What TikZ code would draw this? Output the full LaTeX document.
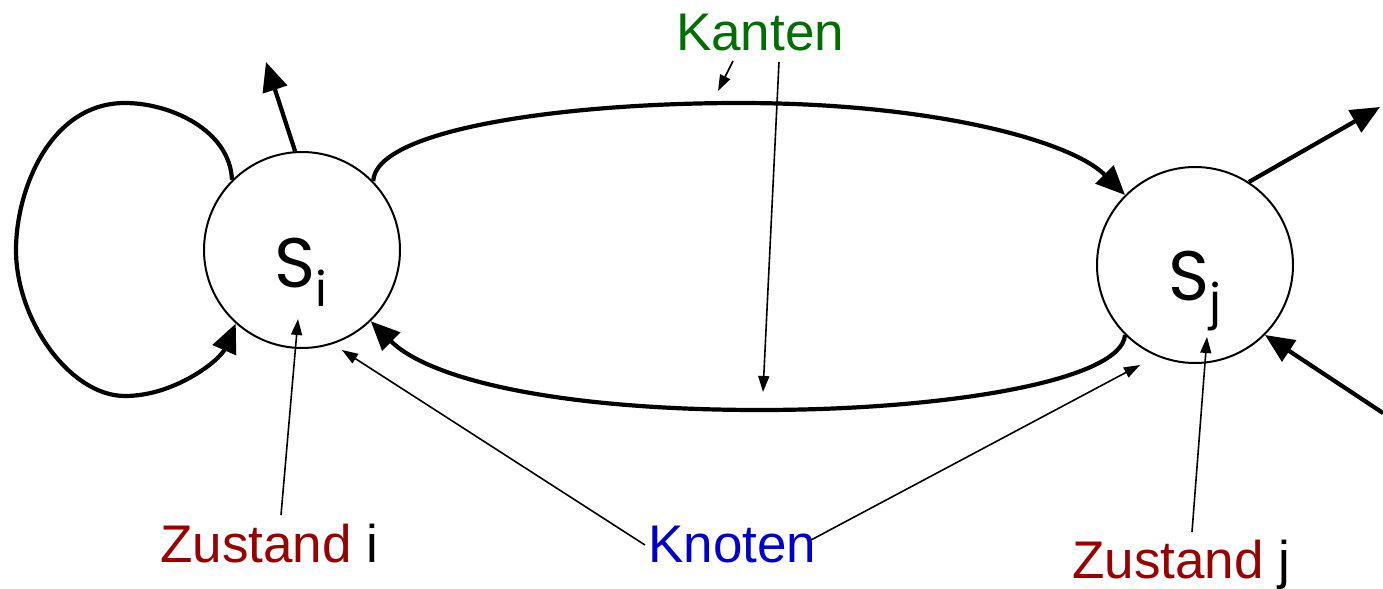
\documentclass[tikz,border=0pt]{standalone}
\usepackage{fontspec}
\setmainfont{Liberation Sans}
\newfontfamily\geofont{Poppins}
\usetikzlibrary{arrows.meta}
\definecolor{zred}{HTML}{990000}
\definecolor{kblue}{HTML}{0000CC}
\definecolor{kgreen}{HTML}{006E00}
\begin{document}
\begin{tikzpicture}[x=0.5pt,y=-0.5pt,
  state/.style={circle,draw,line width=1pt,minimum size=98pt,inner sep=0pt},
  edge/.style={line width=2.1pt,-{Triangle[length=14.5pt,width=12.5pt]}},
  note/.style={line width=0.8pt,-{Triangle[length=8pt,width=5.5pt]}},
  lbl/.style={inner sep=0pt,font=\fontsize{26.5}{30}\selectfont}]
\useasboundingbox (0,0) rectangle (1383,589);
% states
\node[state] (Si) at (302,250) {};
\node[state] (Sj) at (1195,265) {};
\node[inner sep=0pt,anchor=base] (Silab) at (301,287) {\geofont\fontsize{35}{38}\selectfont S\raisebox{-9.5pt}{\fontsize{24}{26}\selectfont i}};
\node[inner sep=0pt,anchor=base] (Sjlab) at (1195,300) {\geofont\fontsize{35}{38}\selectfont S\raisebox{-9pt}{\fontsize{24}{26}\selectfont j}};
% labels
\node[lbl,anchor=base,text=kgreen] (kanten) at (760,50) {Kanten};
\node[lbl,anchor=base west] (zi) at (160,562) {\textcolor{zred}{Zustand} i};
\node[lbl,anchor=base west,text=kblue] (knoten) at (648,562) {Knoten};
\node[lbl,anchor=base west] (zj) at (1072,578) {\textcolor{zred}{Zustand} j};
% free ends
\coordinate (upEnd) at (266,62);
\coordinate (outEnd) at (1380,107);
\coordinate (inStart) at (1383,413);
\coordinate (kA) at (733,61);
\coordinate (kAtip) at (718,91);
\coordinate (kB) at (779,62);
\coordinate (kBtip) at (763,392);
\coordinate (ziS) at (281,515);
\coordinate (ziT) at (298,319);
\coordinate (zjS) at (1192,532);
\coordinate (zjT) at (1207,337);
\coordinate (knL) at (645,545);
\coordinate (knLT) at (342,350);
\coordinate (knR) at (811,540);
\coordinate (knRT) at (1140,365);
% edges
\draw[edge] (Si.135) .. controls (230,130) and (170,103) .. (125,103)
  .. controls (50,103) and (16,190) .. (16,250)
  .. controls (16,320) and (70,396) .. (125,396)
  .. controls (175,396) and (220,360) .. (Si.228);
\draw[edge] (Si.94) -- (upEnd);
\draw[edge] (Si.44) .. controls (375,130) and (560,103) .. (740,103)
  .. controls (930,103) and (1070,140) .. (Sj.135);
\draw[edge] (Sj.225) .. controls (1122,380) and (950,410) .. (760,410)
  .. controls (560,410) and (430,380) .. (Si.-46);
\draw[edge] (Sj.57) -- (outEnd);
\draw[edge] (inStart) -- (Sj.-45);
% annotations
\draw[note] (kA) -- (kAtip);
\draw[note] (kB) -- (kBtip);
\draw[note] (ziS) -- (ziT);
\draw[note] (zjS) -- (zjT);
\draw[note] (knL) -- (knLT);
\draw[note] (knR) -- (knRT);
\end{tikzpicture}
\end{document}
